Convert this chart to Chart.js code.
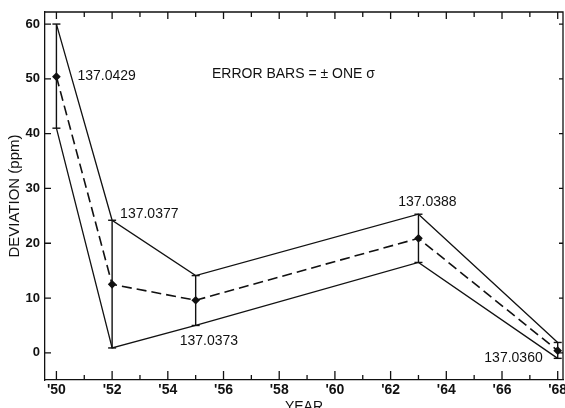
<!DOCTYPE html>
<html>
<head>
<meta charset="utf-8">
<script src="https://cdn.jsdelivr.net/npm/chart.js@4.4.1/dist/chart.umd.min.js"></script>
<style>
  html, body { margin: 0; padding: 0; background: #fff; }
  #wrap { width: 565px; height: 408px; }
</style>
</head>
<body>
<div id="wrap"><canvas id="chart" width="565" height="408"></canvas></div>
<script>
// measurement years and deviation (ppm) with +/- one sigma bounds
const years = [1950, 1952, 1955, 1963, 1968];
const upper = [60, 24.2, 14.1, 25.3, 1.9];
const central = [50.4, 12.5, 9.6, 20.9, 0.4];
const lower = [41, 0.9, 5.0, 16.5, -1.0];
const alphaInv = ["137.0429", "137.0377", "137.0373", "137.0388", "137.0360"];
const xTickYears = [1950, 1951, 1952, 1953, 1954, 1955, 1956, 1957, 1958, 1959,
  1960, 1961, 1962, 1963, 1964, 1965, 1966, 1967, 1968];
const yTickValues = [0, 10, 20, 30, 40, 50, 60];

const INK = "#111";
const FONT = "'Liberation Sans', Arial, sans-serif";

const pts = (arr) => years.map((yr, i) => ({ x: yr, y: arr[i] }));

// vertical error bars, one small dataset per year
const errorBars = years.map((yr, i) => ({
  data: [{ x: yr, y: lower[i] }, { x: yr, y: upper[i] }],
  showLine: true,
  borderColor: INK,
  borderWidth: 1.4,
  pointStyle: "line",
  pointRadius: 4,
  pointBorderWidth: 1.4,
  pointBorderColor: INK
}));

// where each 1/alpha label sits next to its point
const labelPlace = [
  { from: central, dx: 21, dy: -1, align: "left" },
  { from: upper, dx: 8, dy: -6, align: "left" },
  { from: lower, dx: -16, dy: 16, align: "left" },
  { from: upper, dx: 9, dy: -12, align: "center" },
  { from: lower, dx: -15, dy: 0, align: "right" }
];

const frameAndText = {
  id: "frameAndText",
  afterDraw(chart) {
    const { ctx, chartArea: a, scales: { x, y } } = chart;
    ctx.save();
    ctx.strokeStyle = INK;
    ctx.lineWidth = 1.3;

    // top and right edges of the frame
    ctx.beginPath();
    ctx.moveTo(a.left, a.top);
    ctx.lineTo(a.right, a.top);
    ctx.lineTo(a.right, a.bottom);
    ctx.stroke();

    // inward tick marks
    ctx.beginPath();
    xTickYears.forEach(yr => {
      const px = x.getPixelForValue(yr);
      const big = yr % 2 === 0;
      ctx.moveTo(px, a.bottom);
      ctx.lineTo(px, a.bottom - (big ? 9 : 5));
      ctx.moveTo(px, a.top);
      ctx.lineTo(px, a.top + (big ? 7 : 5));
    });
    yTickValues.forEach(v => {
      const py = y.getPixelForValue(v);
      ctx.moveTo(a.left, py);
      ctx.lineTo(a.left + 6, py);
      ctx.moveTo(a.right, py);
      ctx.lineTo(a.right - 4, py);
    });
    ctx.stroke();

    // value labels
    ctx.fillStyle = INK;
    ctx.textBaseline = "middle";
    ctx.font = "14px " + FONT;
    labelPlace.forEach((p, i) => {
      ctx.textAlign = p.align;
      const px = x.getPixelForValue(years[i]) + p.dx;
      const py = y.getPixelForValue(p.from[i]) + p.dy;
      ctx.fillText(alphaInv[i], px, py);
    });

    ctx.textAlign = "left";
    ctx.fillText("ERROR BARS = \u00B1 ONE \u03C3", a.left + 167, a.top + 62);
    ctx.restore();
  }
};

new Chart(document.getElementById("chart"), {
  type: "scatter",
  data: {
    datasets: [
      {
        data: pts(upper),
        showLine: true,
        borderColor: INK,
        borderWidth: 1.3,
        pointRadius: 0
      },
      {
        data: pts(lower),
        showLine: true,
        borderColor: INK,
        borderWidth: 1.3,
        pointRadius: 0
      },
      {
        data: pts(central),
        showLine: true,
        borderColor: INK,
        borderWidth: 1.6,
        borderDash: [10, 5],
        pointStyle: "rectRot",
        pointRadius: 3.2,
        pointBackgroundColor: INK,
        pointBorderColor: INK
      },
      ...errorBars
    ]
  },
  options: {
    responsive: false,
    animation: false,
    layout: { autoPadding: false, padding: { top: 12, right: 2, left: 0, bottom: 0 } },
    plugins: {
      legend: { display: false },
      tooltip: { enabled: false }
    },
    scales: {
      x: {
        type: "linear",
        min: 1949.59,
        max: 1968.19,
        grid: { display: false, drawTicks: false },
        border: { display: true, color: INK, width: 1.3 },
        afterBuildTicks: (s) => { s.ticks = xTickYears.map(v => ({ value: v })); },
        ticks: {
          autoSkip: false,
          maxRotation: 0,
          padding: 2,
          color: INK,
          font: { family: FONT, size: 14, weight: "bold" },
          callback: (v) => (v % 2 === 0) ? "'" + String(v).slice(2) : ""
        },
        title: {
          display: true,
          text: "YEAR",
          color: INK,
          font: { family: FONT, size: 14 },
          padding: { top: 0, bottom: -8 }
        },
        afterFit: (s) => { s.height = 28; s.paddingLeft = 0; s.paddingRight = 0; }
      },
      y: {
        min: -4.95,
        max: 62.2,
        grid: { display: false, drawTicks: false },
        border: { display: true, color: INK, width: 1.3 },
        afterBuildTicks: (s) => { s.ticks = yTickValues.map(v => ({ value: v })); },
        ticks: {
          padding: 5,
          color: INK,
          font: { family: FONT, size: 13, weight: "bold" },
          callback: (v) => String(v)
        },
        title: {
          display: true,
          text: "DEVIATION (ppm)",
          color: INK,
          font: { family: FONT, size: 15 },
          padding: { top: 6, bottom: 0 }
        },
        afterFit: (s) => { s.width = 45; s.paddingTop = 0; s.paddingBottom = 0; }
      }
    }
  },
  plugins: [frameAndText]
});
</script>
</body>
</html>
